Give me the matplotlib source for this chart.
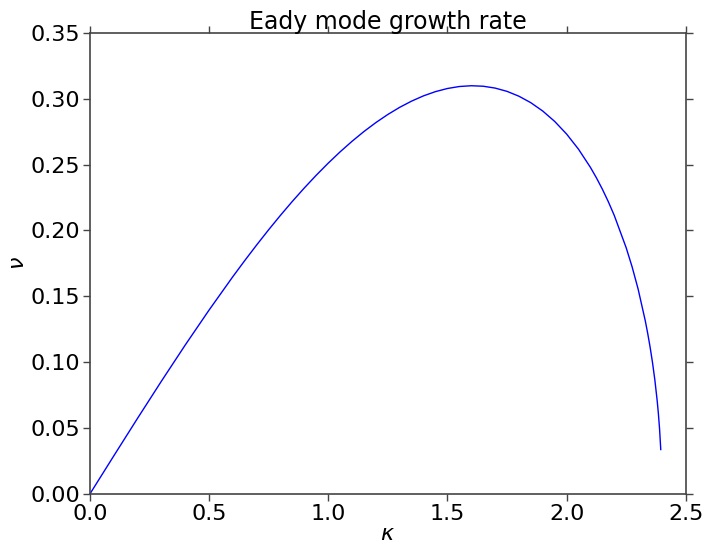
import matplotlib
matplotlib.use("Agg")
import matplotlib.pyplot as plt

# wavenumber kappa and growth rate nu
kappa = [0.0, 0.1, 0.2, 0.3, 0.4, 0.5, 0.6, 0.65, 0.7, 0.75, 0.8, 0.85, 0.9,
         0.95, 1.0, 1.05, 1.1, 1.15, 1.2, 1.25, 1.3, 1.35, 1.4, 1.45, 1.5,
         1.55, 1.6, 1.65, 1.7, 1.75, 1.8, 1.85, 1.9, 1.95, 2.0, 2.05, 2.1,
         2.125, 2.15, 2.175, 2.2, 2.25, 2.275, 2.3, 2.33, 2.34, 2.35, 2.36,
         2.37, 2.38, 2.385, 2.39, 2.395]
nu = [0.0, 0.02883, 0.05743, 0.08557, 0.11303, 0.13955, 0.16497, 0.17718,
      0.18903, 0.20050, 0.21155, 0.22216, 0.23229, 0.24194, 0.25107, 0.25965,
      0.26766, 0.27508, 0.28186, 0.28799, 0.29344, 0.29816, 0.30215, 0.30534,
      0.30771, 0.30922, 0.30981, 0.30944, 0.30804, 0.30555, 0.30187, 0.29694,
      0.29061, 0.28275, 0.27318, 0.26166, 0.24787, 0.23999, 0.23135, 0.22186,
      0.21141, 0.18689, 0.17231, 0.15559, 0.13157, 0.12220, 0.11187, 0.10029,
      0.08696, 0.07088, 0.06115, 0.04948, 0.03383]

xticks = [0.0, 0.5, 1.0, 1.5, 2.0, 2.5]
yticks = [0.00, 0.05, 0.10, 0.15, 0.20, 0.25, 0.30, 0.35]

fig = plt.figure(figsize=(7.07, 5.46), dpi=100)
ax = fig.add_axes([0.127, 0.095, 0.843, 0.845])
ax.plot(kappa, nu, color="blue", linewidth=1.0)
ax.set_xlim(0, 2.5)
ax.set_ylim(0, 0.35)
ax.set_xticks(xticks)
ax.set_yticks(yticks)
ax.set_xticklabels([f"{v:.1f}" for v in xticks])
ax.set_yticklabels([f"{v:.2f}" for v in yticks])
ax.tick_params(direction="out", length=5, width=1, labelsize=16,
               top=True, right=True, color="#444444", pad=2)
for s in ax.spines.values():
    s.set_color("#444444")
    s.set_linewidth(1.2)
ax.set_title("Eady mode growth rate", fontsize=17, pad=3)
ax.set_xlabel(r"$\kappa$", fontsize=16, labelpad=0)
ax.set_ylabel(r"$\nu$", fontsize=16, labelpad=2)
fig.savefig("out.png", dpi=100)
